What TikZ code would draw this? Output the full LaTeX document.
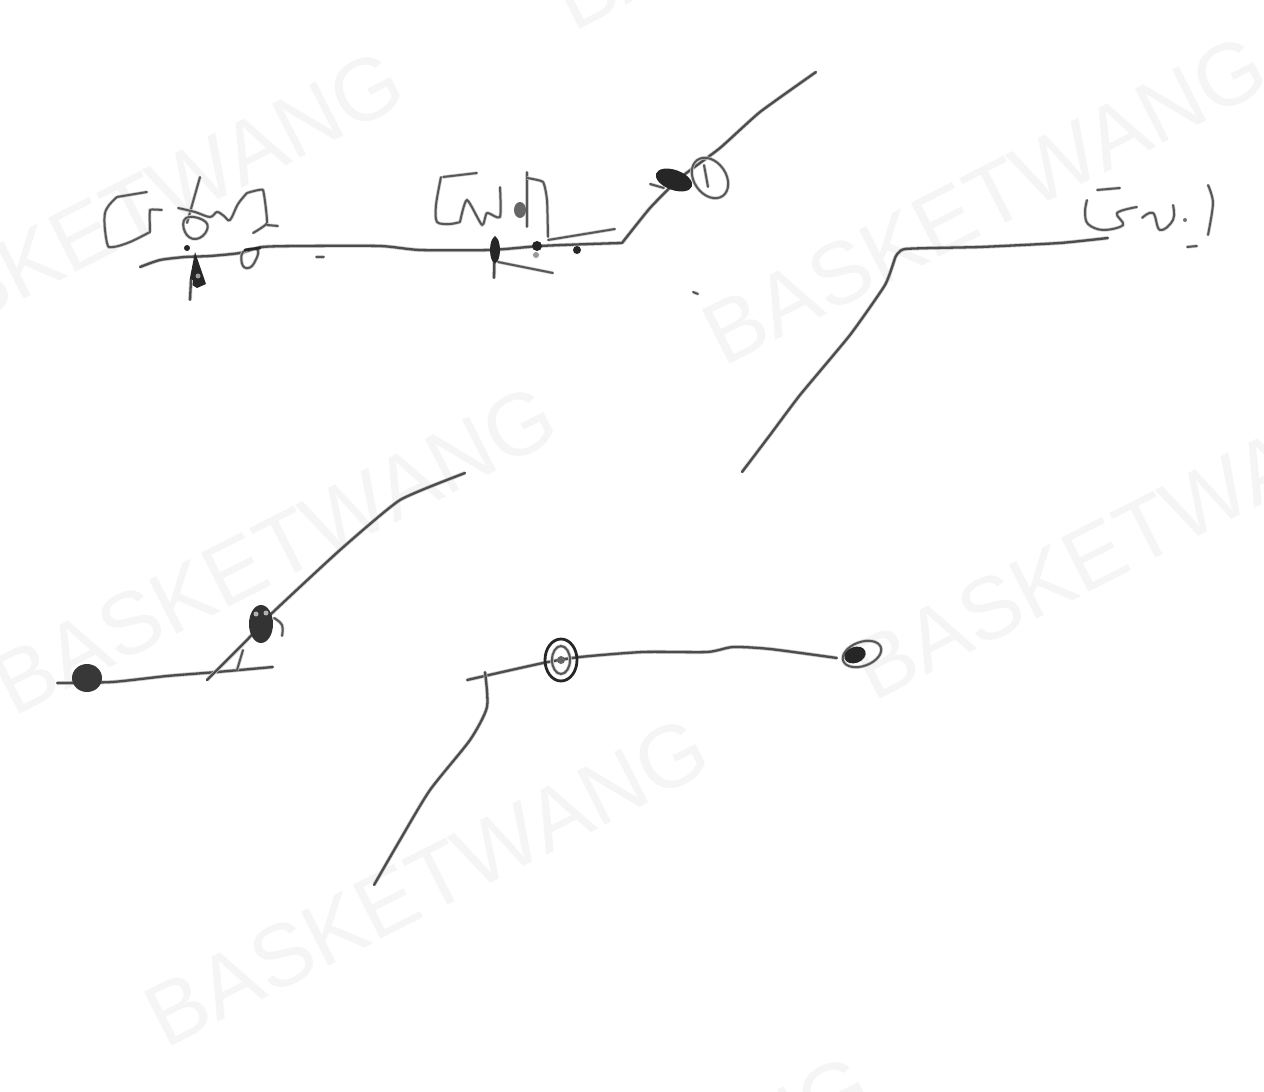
\documentclass[tikz,border=0pt]{standalone}
\usepackage{fontspec}
\setmainfont{Liberation Sans}
\tikzset{
  mark text/.style={font=\fontsize{44}{44}\selectfont, text=black!4, rotate=27, inner sep=0pt},
  ink/.style={draw=black!70, line width=1.15pt, line cap=round, line join=round,
     preaction={draw=black!22, line width=1.9pt}},
  fine/.style={draw=black!66, line width=1pt, line cap=round, line join=round,
     preaction={draw=black!20, line width=1.7pt}},
  scrib/.style={draw=black!85, line width=1.4pt, line cap=round, line join=round},
  spot/.style={fill=black!85}
}
\begin{document}
\begin{tikzpicture}[x=0.5pt,y=-0.5pt]
\useasboundingbox (0,0) rectangle (1264,1092);
\clip (0,0) rectangle (1264,1092);
\fill[white] (0,0) rectangle (1264,1092);
% watermark lattice
\node[mark text] (w1) at (122,215) {BASKETWANG};
\node[mark text] (w2) at (275,550) {BASKETWANG};
\node[mark text] (w3) at (985,200) {BASKETWANG};
\node[mark text] (w4) at (427,882) {BASKETWANG};
\node[mark text] (w5) at (1135,535) {BASKETWANG};
\node[mark text] (w6) at (835,-135) {BASKETWANG};
\node[mark text] (w7) at (590,1220) {BASKETWANG};
% top wire
\draw[ink] plot[smooth,tension=0.4] coordinates {(140,267) (160,260) (185,257) (210,256) (240,253) (262,247) (300,246) (380,246) (420,250) (490,250) (540,246) (590,244) (622,243)};
\draw[ink] plot[smooth,tension=0.3] coordinates {(622,243) (650,208) (680,178) (720,148) (760,112) (816,72)};
% first label
\draw[fine] (147,192) -- (117,197);
\draw[fine] plot[smooth,tension=0.6] coordinates {(117,197) (105,213) (107,243) (113,247) (130,242) (150,232)};
\draw[fine] plot[smooth,tension=0.2] coordinates {(150,232) (150,210) (162,210)};
\draw[fine] (200,177) -- (187,223);
\draw[fine] plot[smooth cycle,tension=0.8] coordinates {(186,218) (185,232) (196,239) (207,230) (203,220)};
\draw[fine] plot[smooth,tension=0.6] coordinates {(178,208) (195,212) (210,217) (217,212) (224,216) (230,220) (238,204) (247,193)};
\draw[fine] plot[smooth,tension=0.2] coordinates {(247,193) (263,190) (267,223) (253,233)};
\draw[fine] (267,225) -- (278,226);
% first junction
\fill[spot] (187,248) circle[radius=3];
\fill[spot] (195,252) -- (189,283) -- (197,288) -- (206,284) -- cycle;
\fill[black!40] (198,276) circle[radius=2.5];
\draw[ink] (191,280) -- (190,300);
\draw[fine] plot[smooth cycle,tension=0.7] coordinates {(243,252) (258,250) (252,266) (243,266)};
\draw[scrib] (245,250) -- (260,248);
\draw[fine] (316,257) -- (324,257);
% second label
\draw[fine] (443,177) -- (477,173);
\draw[fine] plot[smooth,tension=0.5] coordinates {(441,177) (436,205) (437,222) (450,224) (460,222)};
\draw[fine] plot[smooth,tension=0.4] coordinates {(460,222) (467,200) (482,225) (487,213) (500,217) (500,187)};
\draw[fine] (527,172) -- (527,227);
\fill[black!60] (520,210) circle[x radius=6,y radius=8];
\draw[fine] plot[smooth,tension=0.3] coordinates {(527,178) (543,182) (547,200) (548,237)};
% second junction
\draw[ink] (495,237) -- (494,278);
\fill[spot] (495,250) ellipse[x radius=5,y radius=13];
\draw[fine] (498,262) -- (553,273);
\draw[fine] (548,240) -- (615,229);
\fill[spot] (537,246) circle[radius=5];
\fill[black!40] (536,255) circle[radius=3];
\fill[spot] (577,250) circle[radius=4];
% clamp on top wire
\draw[fine,rotate around={-55:(710,178)}] (710,178) ellipse[x radius=22,y radius=16];
\draw[fine] (704,165) -- (708,187);
\draw[fine] (650,184) -- (664,188);
\fill[spot,rotate around={-20:(674,180)}] (674,180) ellipse[x radius=19,y radius=10];
% right wire
\draw[ink] plot[smooth,tension=0.3] coordinates {(1108,238) (1060,243) (980,247) (905,249) (895,258)};
\draw[ink] plot[smooth,tension=0.3] coordinates {(895,258) (885,285) (850,335) (800,395) (770,435) (742,472)};
\draw[fine] (693,292) -- (698,294);
% third label
\draw[fine] (1097,190) -- (1120,188);
\draw[fine] plot[smooth,tension=0.6] coordinates {(1087,200) (1085,212) (1088,224) (1103,230) (1123,225) (1117,213) (1137,207)};
\draw[fine] plot[smooth,tension=0.7] coordinates {(1142,218) (1153,213) (1160,230) (1173,220) (1173,205)};
\fill[black!55] (1185,220) circle[radius=2];
\draw[fine] plot[smooth,tension=0.5] coordinates {(1208,185) (1213,203) (1208,235)};
\draw[fine] (1187,247) -- (1197,246);
% lower left
\draw[ink] plot[smooth,tension=0.4] coordinates {(57,683) (112,682) (167,676) (217,672) (273,667)};
\fill[black!78] (87,678) ellipse[x radius=15,y radius=14];
\draw[ink] plot[smooth,tension=0.3] coordinates {(207,680) (247,640) (270,615) (340,550) (400,500) (465,473)};
\fill[black!80] (261,624) ellipse[x radius=12,y radius=19];
\fill[black!30] (256,614) circle[radius=2.5];
\fill[black!30] (266,613) circle[radius=2.5];
\draw[fine] plot[smooth,tension=0.7] coordinates {(274,618) (282,625) (282,636)};
\draw[fine] (243,650) -- (237,670);
% lower right
\draw[ink] plot[smooth,tension=0.4] coordinates {(467,680) (543,663) (580,657) (643,652) (707,652) (733,647) (770,649) (837,658)};
\draw[scrib] (561,660) ellipse[x radius=16,y radius=21];
\draw[fine] (561,660) ellipse[x radius=9,y radius=14];
\fill[black!60] (561,660) circle[radius=4];
\draw[fine,rotate around={20:(862,654)}] (862,654) ellipse[x radius=20,y radius=12];
\fill[black!85,rotate around={20:(855,655)}] (855,655) ellipse[x radius=11,y radius=8];
\draw[ink] plot[smooth,tension=0.4] coordinates {(485,672) (487,707) (470,740) (430,790) (400,840) (374,885)};
\end{tikzpicture}
\end{document}
